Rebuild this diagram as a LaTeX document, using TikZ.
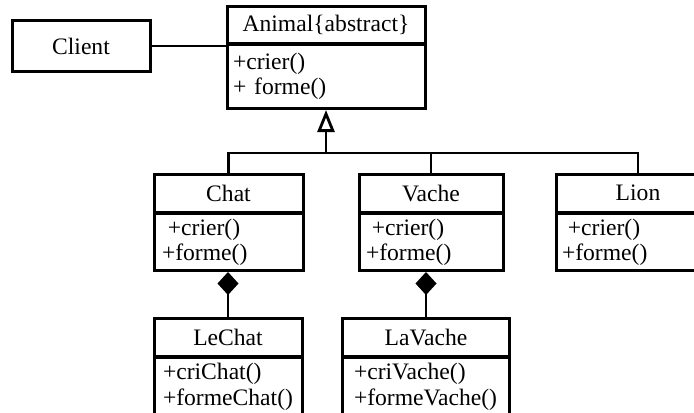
\documentclass[tikz,border=0pt]{standalone}
\usepackage{fontspec}
\setmainfont{Liberation Serif}
\usetikzlibrary{arrows.meta}

\begin{document}
\begin{tikzpicture}[x=0.5pt,y=-0.5pt,
	font=\fontsize{11.8}{12.6}\selectfont,
	head/.style={shape=rectangle,draw,line width=1.5pt,minimum height=19pt,inner sep=0pt},
	body/.style={shape=rectangle,draw,line width=1.5pt,anchor=north,align=left,inner ysep=0pt},
	link/.style={line width=1.4pt}]
	\useasboundingbox (0,0) rectangle (694,412);
	\draw (81,46) node (client) [shape=rectangle,draw,line width=1.5pt,minimum width=69pt,minimum height=25.5pt] {Client};
	\draw (326,24.5) node (animal) [head,minimum width=99pt,minimum height=18.5pt] {Animal\{abstract\}};
	\draw (326,43) node (animalbody) [body,text width=93pt,inner xsep=3pt,minimum height=32pt] {+crier()\\+ forme()};
	\draw (228.5,193) node (chat) [head,minimum width=74.5pt] {Chat};
	\draw (228.5,212) node (chatbody) [body,text width=66.5pt,inner xsep=4pt,minimum height=28.5pt] {\hspace{0.25em}+crier()\\+forme()};
	\draw (431,193) node (vache) [head,minimum width=72pt] {Vache};
	\draw (431,212) node (vachebody) [body,text width=65pt,inner xsep=3.5pt,minimum height=28.5pt] {\hspace{0.25em}+crier()\\+forme()};
	\draw (638,193) node (lion) [head,minimum width=82pt] {Lion};
	\draw (638,212) node (lionbody) [body,text width=76pt,inner xsep=3pt,minimum height=28.5pt] {\hspace{0.25em}+crier()\\+forme()};
	\draw (228,337) node (lechat) [head,minimum width=74pt] {LeChat};
	\draw (228,356) node (lechatbody) [body,text width=65pt,inner xsep=4.5pt,inner ysep=3pt,text depth=29pt] {+criChat()\\+formeChat()};
	\draw (426,337) node (lavache) [head,minimum width=83.5pt] {LaVache};
	\draw (426,356) node (lavachebody) [body,text width=72pt,inner xsep=5.75pt,inner ysep=3pt,text depth=29pt] {+criVache()\\+formeVache()};
	% links
	\coordinate (bar) at (326,153);
	\draw [link] (client.east) -- (client.east -| animalbody.west);
	\draw [link,-{Triangle[open,length=11pt,width=8.5pt]}] (bar) -- (animalbody.south);
	\draw [link] (chat.north) |- (bar) -| (lion.north);
	\draw [link] (vache.north) -- (vache.north |- bar);
	\draw [link,-{Diamond[length=11.5pt,width=10.5pt]}] (lechat.north) -- (lechat.north |- chatbody.south);
	\draw [link,-{Diamond[length=11.5pt,width=10.5pt]}] (lavache.north) -- (lavache.north |- vachebody.south);
\end{tikzpicture}
\end{document}
